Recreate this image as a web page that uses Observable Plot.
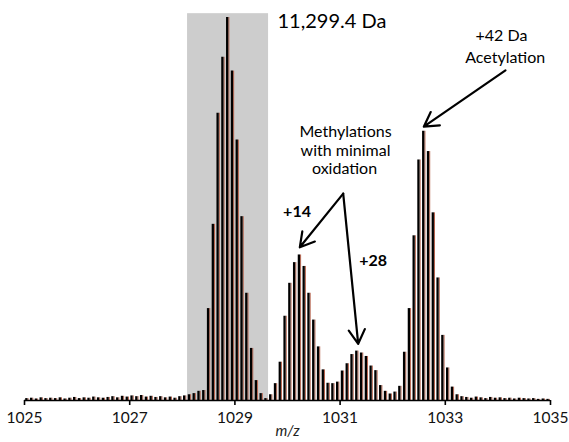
<!DOCTYPE html>
<html><head><meta charset="utf-8">
<script src="https://cdn.jsdelivr.net/npm/d3@7"></script>
<script src="https://cdn.jsdelivr.net/npm/@observablehq/plot@0.6"></script>
<style>
body{margin:0;background:#fff;}
#chart svg{display:block;}
</style></head><body><div id="chart"></div>
<script>
// Isotope comb of the 11+ charge state; apex of the unmodified protein
const charge = 11;
const apexMz = 1028.853;
const firstIsotope = -42;

// Bar intensities (% of base peak), left to right
const leftNoise = [0.5,0.6,0.4,0.7,0.5,0.6,0.5,0.7,0.4,0.6,0.8,0.5,0.7,0.6,0.9,0.7,0.6,0.8,1.0,0.7,1.1,0.9,1.2,1.0,1.3,0.9,1.1,0.8,1.0,0.7,0.9,0.6,1.0,1.2,1.5,1.8,2.4];
const mainPeak = [2.6,24,46,75,89.6,100,86,68,48,28,13.6,5.2,1.8,0.5];
const methylPeaks = [1.5,4.4,10,22,30.6,36,38,35,28,21,14,8,4.5,4.4,4.8,7.7,9.6,12,12.9,12.4,11.5,9,7.8,3.9,2.4,1.7,2.2,3.7];
const acetylPeak = [12.6,24,43,62.8,70.3,65,49,32,17,8.5,3.5,1.5];
const rightNoise = [1.0,0.8,0.6,0.9,0.7,0.5,0.8,0.6,0.7,0.5,0.6,0.4,0.6,0.5,0.4,0.5,0.3,0.4,0.3];

const xTicks = [1025,1027,1029,1031,1033,1035];
const shadeRange = [1028.1, 1029.64];
const shadeTop = 101;

const intensities = [...leftNoise, ...mainPeak, ...methylPeaks, ...acetylPeak, ...rightNoise];
const spectrum = intensities.map((v, i) => ({mz: apexMz + (firstIsotope + i) / charge, i: v}));
const shade = [{x1: shadeRange[0], x2: shadeRange[1], y1: 0, y2: shadeTop}];

const massLabel = [{x: 1029.81, y: 99.0, text: "11,299.4 Da"}];
const notes = [
  {x: 1034.068, y: 95.3, text: "+42 Da"},
  {x: 1034.139, y: 89.5, text: "Acetylation"},
  {x: 1031.103, y: 70.1, text: "Methylations"},
  {x: 1031.103, y: 65.3, text: "with minimal"},
  {x: 1031.084, y: 60.5, text: "oxidation"}
];
const boldNotes = [
  {x: 1030.181, y: 49.2, text: "+14"},
  {x: 1031.629, y: 36.4, text: "+28"}
];
const arrows = [
  {x1: 1034.144, y1: 86.2, x2: 1032.591, y2: 71.5},
  {x1: 1031.059, y1: 54.0, x2: 1030.234, y2: 40.0},
  {x1: 1031.059, y1: 54.0, x2: 1031.344, y2: 14.8}
];

const chart = Plot.plot({
  width: 569, height: 442,
  marginLeft: 24, marginRight: 19, marginTop: 17, marginBottom: 42,
  style: {fontFamily: "Lato", background: "white", overflow: "visible", color: "#000"},
  x: {domain: [1025, 1035]},
  y: {domain: [0, 100], axis: null},
  marks: [
    Plot.rect(shade, {x1: "x1", x2: "x2", y1: "y1", y2: "y2", fill: "#cdcdcd"}),
    Plot.ruleX(spectrum, {x: "mz", y1: 0, y2: "i", stroke: "#b5624c", strokeWidth: 1, dx: 1.7}),
    Plot.ruleX(spectrum, {x: "mz", y1: 0, y2: "i", stroke: "#000", strokeWidth: 2.3}),
    Plot.ruleY([0], {stroke: "#000", strokeWidth: 1.6}),
    Plot.axisX({ticks: xTicks, tickSize: 5, tickPadding: 6, fontSize: 15.5, label: null, tickFormat: d => String(d), strokeWidth: 1.6, stroke: "#000", fill: "#111"}),
    Plot.text(["m/z"], {frameAnchor: "bottom", dy: 35, fontStyle: "italic", fontSize: 15, fill: "#222"}),
    Plot.arrow(arrows, {x1: "x1", y1: "y1", x2: "x2", y2: "y2", stroke: "#000", strokeWidth: 2.2, headLength: 11, bend: 0, inset: 0}),
    Plot.text(massLabel, {x: "x", y: "y", text: "text", textAnchor: "start", fontSize: 20, fill: "#000"}),
    Plot.text(notes, {x: "x", y: "y", text: "text", fontSize: 16, fill: "#000"}),
    Plot.text(boldNotes, {x: "x", y: "y", text: "text", fontSize: 16, fontWeight: "bold", fill: "#000"})
  ]
});
document.getElementById("chart").appendChild(chart);
</script>
</body></html>
